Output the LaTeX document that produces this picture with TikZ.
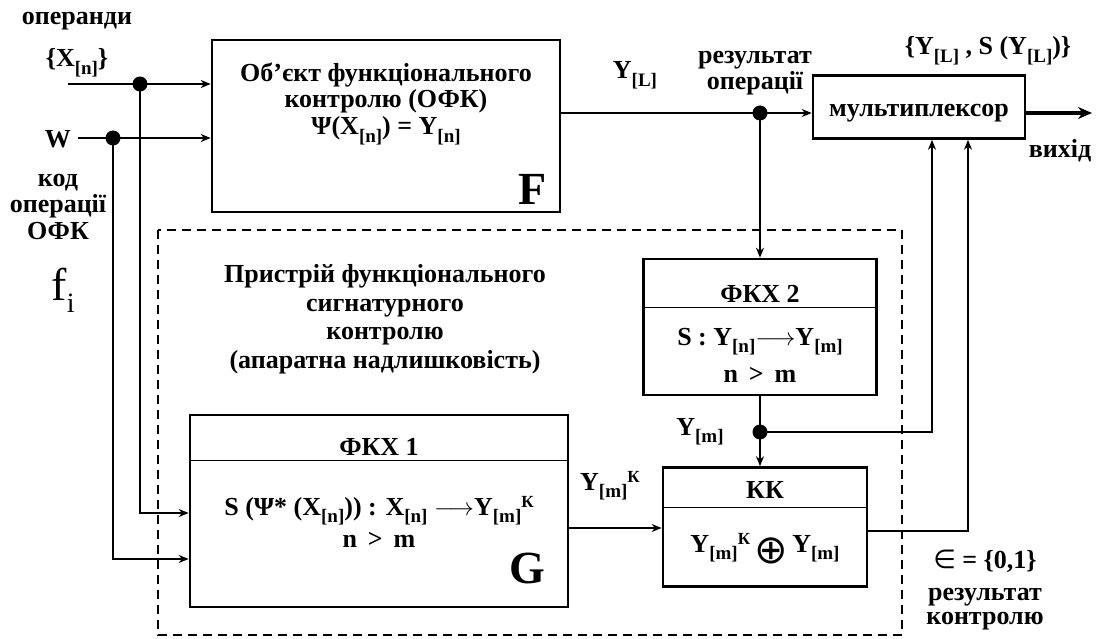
\documentclass[tikz,border=0pt]{standalone}
\usepackage{fontspec}
\setmainfont{Liberation Serif}
\newfontfamily\symf{DejaVu Sans}
\usetikzlibrary{arrows.meta, positioning, calc}

\tikzset{
  blk/.style={draw, line width=2.6pt, inner sep=0pt},
  wire/.style={line width=2.4pt},
  arr/.style={wire, -{Stealth[length=10pt, width=8pt]}},
  dot/.style={circle, fill, inner sep=0pt, minimum size=15pt},
  lbl/.style={font=\fontsize{26}{29}\selectfont\bfseries, inner sep=0pt, anchor=base},
  big/.style={lbl, font=\fontsize{46}{48}\selectfont\bfseries},
}
\newcommand{\ix}[1]{\raisebox{-0.3em}{\fontsize{19}{19}\selectfont #1}}
\newcommand{\ux}[1]{\raisebox{0.3em}{\fontsize{17}{17}\selectfont #1}}

\begin{document}
\begin{tikzpicture}[x=1pt,y=-1pt]
\useasboundingbox (0,0) rectangle (1096,639);

% frame of the signature control device
\draw[line width=1.6pt, dash pattern=on 9pt off 6pt] (158,230) rectangle (902,635);

% blocks
\node[blk, minimum width=348, minimum height=172] (F) at (386,126) {};
\node[blk, minimum width=212, minimum height=63] (mux) at (919,107) {};
\node[blk, minimum width=233, minimum height=136] (S2) at (760,327) {};
\node[blk, minimum width=204, minimum height=119] (KK) at (765,527) {};
\node[blk, minimum width=378, minimum height=192] (G) at (379,511) {};

\draw[line width=1.4pt] ([yshift=-50pt]S2.north west) -- ([yshift=-50pt]S2.north east);
\draw[line width=1.4pt] ([yshift=-41pt]KK.north west) -- ([yshift=-41pt]KK.north east);
\draw[line width=1.4pt] ([yshift=-47pt]G.north west) -- ([yshift=-47pt]G.north east);

% texts in blocks
\node[lbl] (ft1) at (386,82) {Об’єкт функціонального};
\node[lbl] (ft2) at (386,108) {контролю (ОФК)};
\node[lbl] (ft3) at (386,135) {Ψ(X\ix{[n]}) = Y\ix{[n]}};
\node[big] (fF) at (533,205) {F};
\node[lbl] (mt) at (919,117) {мультиплексор};
\node[lbl] (s2a) at (760,303) {ФКХ 2};
\node[lbl] (s2b) at (760,345) {S : Y\ix{[n]}\(\longrightarrow\)Y\ix{[m]}};
\node[lbl] (s2c) at (760,382) {n \,>\, m};
\node[lbl] (kka) at (765,498) {КК};
\node[lbl] (kkb) at (765,552) {Y\ix{[m]}\ux{К}\,\raisebox{-11pt}{\symf\mdseries\fontsize{40}{40}\selectfont ⊕}\,Y\ix{[m]}};
\node[lbl] (ga) at (379,455) {ФКХ 1};
\node[lbl] (gb) at (379,515) {S (Ψ* (X\ix{[n]})) : X\ix{[n]} \(\longrightarrow\)Y\ix{[m]}\ux{К}};
\node[lbl] (gc) at (379,547) {n \,>\, m};
\node[big] (gG) at (527,583) {G};

% labels
\node[lbl] (opr) at (77,25) {операнди};
\node[lbl] (xn) at (77,67) {\{X\ix{[n]}\}};
\node[lbl] (wl) at (58,148) {W};
\node[lbl] (kod) at (58,187) {код};
\node[lbl] (opc) at (58,213) {операції};
\node[lbl] (ofk) at (58,240) {ОФК};
\node[lbl, font=\fontsize{46}{48}\selectfont] (fi) at (63,301) {f\raisebox{-0.25em}{\fontsize{28}{28}\selectfont i}};
\node[lbl] (yl) at (635,79) {Y\ix{[L]}};
\node[lbl] (rez1) at (755,64) {результат};
\node[lbl] (rez2) at (755,90) {операції};
\node[lbl] (ys) at (988,55) {\{Y\ix{[L]} , S (Y\ix{[L]})\}};
\node[lbl] (vyh) at (1060,158) {вихід};
\node[lbl] (dev1) at (385,283) {Пристрій функціонального};
\node[lbl] (dev2) at (385,312) {сигнатурного};
\node[lbl] (dev3) at (385,340) {контролю};
\node[lbl] (dev4) at (385,368) {(апаратна надлишковість)};
\node[lbl] (ym) at (700,435) {Y\ix{[m]}};
\node[lbl] (ymk) at (610,490) {Y\ix{[m]}\ux{К}};
\node[lbl] (eps) at (985,568) {{\symf\mdseries ∈} = \{0,1\}};
\node[lbl] (rk1) at (985,600) {результат};
\node[lbl] (rk2) at (985,624) {контролю};

% connectors
\coordinate (inX) at (68,84);
\coordinate (inW) at (78,138);
\coordinate (jX) at (140,84);
\coordinate (jW) at (113,138);
\coordinate (gX) at (140,513);
\coordinate (gW) at (113,559);
\coordinate (jY) at (760,113);
\coordinate (jM) at (760,432);
\coordinate (gK) at (568,528);
\coordinate (kO) at (867,531);
\coordinate (out) at (1092,113);

\draw[arr] (inX) -- (inX -| F.west);
\draw[arr] (inW) -- (inW -| F.west);
\draw[arr] (jX) -- (gX) -- (gX -| G.west);
\draw[arr] (jW) -- (gW) -- (gW -| G.west);
\draw[wire] (jY -| F.east) -- (jY);
\draw[arr] (jY) -- (jY -| mux.west);
\draw[arr] (jY) -- (jY |- S2.north);
\draw[-{Stealth[length=14pt, width=12pt]}, line width=3.4pt] (jY -| mux.east) -- (out);
\draw[wire] (S2.south -| jM) -- (jM);
\draw[arr] (jM) -- (jM |- KK.north);
\draw[arr] (jM) -| ([xshift=13pt]mux.south);
\draw[arr] (gK) -- (gK -| KK.west);
\draw[arr] (kO) -| ([xshift=49pt]mux.south);

\node[dot] (dX) at (jX) {};
\node[dot] (dW) at (jW) {};
\node[dot] (dY) at (jY) {};
\node[dot] (dM) at (jM) {};

\end{tikzpicture}
\end{document}
